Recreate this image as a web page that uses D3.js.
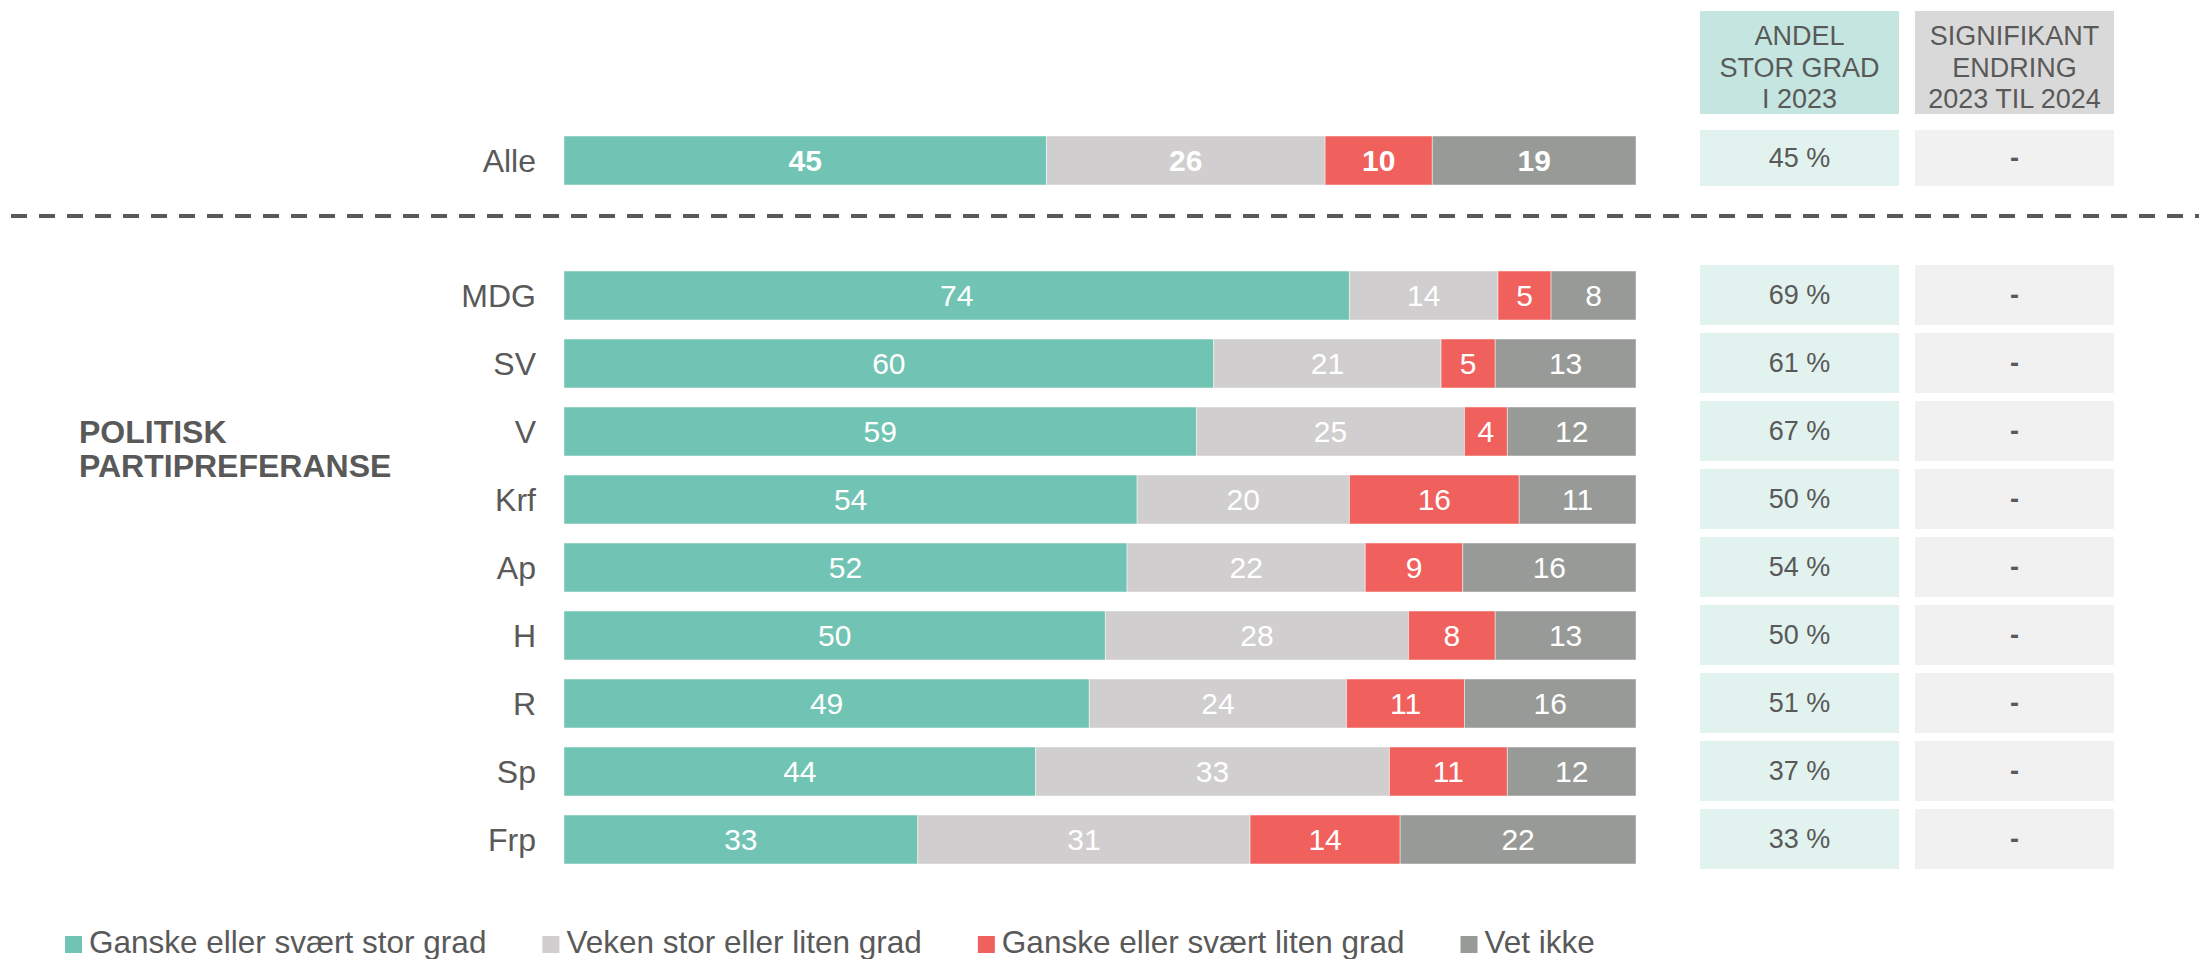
<!DOCTYPE html>
<html>
<head>
<meta charset="utf-8">
<script src="https://cdnjs.cloudflare.com/ajax/libs/d3/7.8.5/d3.min.js"></script>
<style>
  body { margin: 0; background: #fff; }
  svg text { font-family: "Liberation Sans", Arial, sans-serif; }
</style>
</head>
<body>
<div id="chart"></div>
<script>
(function () {
    'use strict';

    // data
    var series = ["Ganske eller svært stor grad", "Veken stor eller liten grad", "Ganske eller svært liten grad", "Vet ikke"];
    var colors = ["#71c4b4", "#d0cece", "#f0605d", "#989a97"];

    var totalLabel = "Alle";
    var totalValues = [45, 26, 10, 19];
    var totalShare = "45 %";
    var totalChange = "-";

    var parties = ["MDG", "SV", "V", "Krf", "Ap", "H", "R", "Sp", "Frp"];
    var stor   = [74, 60, 59, 54, 52, 50, 49, 44, 33];
    var veken  = [14, 21, 25, 20, 22, 28, 24, 33, 31];
    var liten  = [5, 5, 4, 16, 9, 8, 11, 11, 14];
    var vetIkke = [8, 13, 12, 11, 16, 13, 16, 12, 22];
    var share2023 = ["69 %", "61 %", "67 %", "50 %", "54 %", "50 %", "51 %", "37 %", "33 %"];
    var change = ["-", "-", "-", "-", "-", "-", "-", "-", "-"];

    var groupLabel = ["POLITISK", "PARTIPREFERANSE"];
    var head1 = ["ANDEL", "STOR GRAD", "I 2023"];
    var head2 = ["SIGNIFIKANT", "ENDRING", "2023 TIL 2024"];

    var w = 2199, h = 959;
    var textCol = "#595959";

    var svg = d3.select("#chart").append("svg")
        .attr("width", w).attr("height", h);

    var x = d3.scaleLinear().domain([0, 100]).range([564, 1636]);
    var yAll = d3.scaleBand().domain([totalLabel]).range([126.5, 194.5])
        .paddingInner(0.28).paddingOuter(0.14);
    var y = d3.scaleBand().domain(parties).range([261.5, 873.5])
        .paddingInner(0.28).paddingOuter(0.14);

    var rows = [{ name: totalLabel, vals: totalValues, bold: true, yy: yAll }];
    parties.forEach(function (p, i) {
        rows.push({ name: p, vals: [stor[i], veken[i], liten[i], vetIkke[i]], bold: false, yy: y });
    });

    // stack each row, scaled to its own total
    rows.forEach(function (r) {
        var sum = d3.sum(r.vals), acc = 0;
        r.segs = r.vals.map(function (v, k) {
            var s = { v: v, k: k, x0: acc / sum * 100, x1: (acc + v) / sum * 100 };
            acc += v;
            return s;
        });
    });

    var rowG = svg.selectAll("g.row").data(rows).enter().append("g")
        .attr("class", "row")
        .attr("transform", function (r) { return "translate(0," + r.yy(r.name) + ")"; });

    rowG.append("text")
        .attr("x", 536)
        .attr("y", function (r) { return r.yy.bandwidth() / 2; })
        .attr("dy", "0.35em")
        .attr("text-anchor", "end")
        .attr("font-size", 32)
        .attr("fill", textCol)
        .text(function (r) { return r.name; });

    var seg = rowG.selectAll("g.seg").data(function (r) {
        return r.segs.map(function (s) { s.bw = r.yy.bandwidth(); s.bold = r.bold; return s; });
    }).enter().append("g").attr("class", "seg");

    seg.append("rect")
        .attr("x", function (d) { return x(d.x0); })
        .attr("width", function (d) { return x(d.x1) - x(d.x0); })
        .attr("height", function (d) { return d.bw; })
        .attr("fill", function (d) { return colors[d.k]; })
        .attr("stroke", "#ffffff")
        .attr("stroke-opacity", 0.45)
        .attr("stroke-width", 1);

    seg.append("text")
        .attr("x", function (d) { return (x(d.x0) + x(d.x1)) / 2; })
        .attr("y", function (d) { return d.bw / 2; })
        .attr("dy", "0.35em")
        .attr("text-anchor", "middle")
        .attr("font-size", 30)
        .attr("font-weight", function (d) { return d.bold ? "bold" : "normal"; })
        .attr("fill", "#ffffff")
        .text(function (d) { return d.v; });

    // dashed separator
    svg.append("line")
        .attr("x1", 11).attr("x2", w)
        .attr("y1", 216).attr("y2", 216)
        .attr("stroke", textCol)
        .attr("stroke-width", 4)
        .attr("stroke-dasharray", "16,12");

    // group label
    svg.append("text")
        .attr("x", 79).attr("y", 443)
        .attr("font-size", 32).attr("font-weight", "bold")
        .attr("fill", textCol)
        .selectAll("tspan").data(groupLabel).enter().append("tspan")
        .attr("x", 79)
        .attr("dy", function (d, i) { return i ? 34 : 0; })
        .text(function (d) { return d; });

    // side table
    var cols = [
        { x: 1700, w: 199, head: head1, headFill: "#c5e6e0", cellFill: "#e1f2ef" },
        { x: 1915, w: 199, head: head2, headFill: "#d9d9d9", cellFill: "#f1f1f1" }
    ];

    cols.forEach(function (c, ci) {
        svg.append("rect").attr("x", c.x).attr("y", 11)
            .attr("width", c.w).attr("height", 103).attr("fill", c.headFill);
        svg.append("g").selectAll("text").data(c.head).enter().append("text")
            .attr("x", c.x + c.w / 2)
            .attr("y", function (d, i) { return 45 + i * 31.5; })
            .attr("text-anchor", "middle")
            .attr("font-size", 27)
            .attr("fill", textCol)
            .text(function (d) { return d; });

        var cellData = [{ yy: yAll, name: totalLabel, t: ci ? totalChange : totalShare }];
        parties.forEach(function (p, i) {
            cellData.push({ yy: y, name: p, t: ci ? change[i] : share2023[i] });
        });

        var cell = svg.append("g").selectAll("g").data(cellData).enter().append("g")
            .attr("transform", function (d) { return "translate(" + c.x + "," + (d.yy(d.name) - 6) + ")"; });
        cell.append("rect")
            .attr("width", c.w)
            .attr("height", function (d, i) { return i ? 60 : 56; })
            .attr("fill", c.cellFill);
        cell.append("text")
            .attr("x", c.w / 2)
            .attr("y", function (d, i) { return (i ? 60 : 56) / 2; })
            .attr("dy", "0.35em")
            .attr("text-anchor", "middle")
            .attr("font-size", 27)
            .attr("font-weight", ci ? "bold" : "normal")
            .attr("fill", textCol)
            .text(function (d) { return d.t; });
    });

    // legend
    var legend = svg.append("g").attr("transform", "translate(65,953)");
    var lx = 0;
    series.forEach(function (s, i) {
        var g = legend.append("g").attr("transform", "translate(" + lx + ",0)");
        g.append("rect").attr("x", 0).attr("y", -17).attr("width", 17).attr("height", 17)
            .attr("fill", colors[i]);
        var t = g.append("text").attr("x", 24).attr("y", 0)
            .attr("font-size", 31.5).attr("fill", textCol).text(s);
        lx += 24 + t.node().getComputedTextLength() + 56;
    });
})();
</script>
</body>
</html>
